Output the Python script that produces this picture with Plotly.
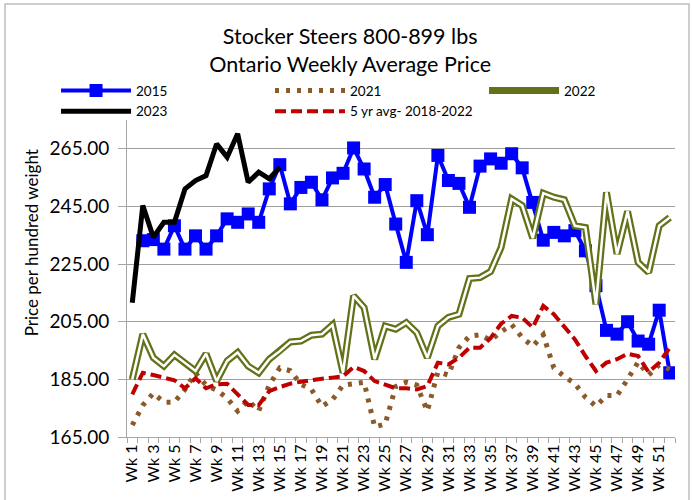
import plotly.graph_objects as go

weeks = [f"Wk {i}" for i in range(1, 53)]

y2015 = [None, 233.1, 233.5, 230.2, 238.3, 230.2, 234.8, 230.2, 234.8, 240.7,
         239.5, 242.4, 239.5, 251.1, 259.5, 245.9, 251.6, 253.4, 247.3, 254.9,
         256.5, 265.3, 258.0, 248.2, 252.6, 238.9, 225.6, 247.0, 235.2, 262.7,
         254.0, 253.0, 244.7, 259.0, 261.5, 260.0, 263.3, 258.4, 246.4, 233.3,
         236.0, 234.8, 236.6, 229.6, 217.5, 202.0, 200.7, 205.0, 198.3, 197.2,
         209.0, 187.3]

y2021 = [169.1, 176.0, 180.2, 177.1, 177.1, 181.5, 187.2, 183.0, 181.3, 178.5,
         174.0, 177.7, 174.0, 183.0, 189.0, 188.0, 183.3, 181.5, 175.6, 178.0,
         183.0, 183.7, 184.0, 168.5, 169.5, 182.5, 184.0, 183.0, 174.0, 187.6,
         186.5, 196.0, 200.0, 200.5, 198.5, 201.5, 204.0, 199.5, 196.5, 200.5,
         189.0, 186.0, 183.5, 178.8, 175.7, 179.4, 179.4, 185.0, 191.0, 186.5,
         190.0, 188.5]

y2022 = [185.0, 200.7, 192.5, 189.6, 193.5, 190.8, 187.9, 193.9, 184.4, 191.4,
         194.3, 189.6, 187.3, 192.0, 194.8, 198.0, 198.3, 200.3, 200.7, 203.9,
         187.3, 214.0, 209.9, 192.0, 203.5, 202.4, 204.7, 201.2, 192.5, 203.5,
         206.5, 207.6, 220.0, 220.3, 222.4, 230.8, 247.6, 245.3, 234.0, 249.6,
         248.2, 247.3, 238.3, 237.7, 211.1, 249.9, 228.5, 243.3, 225.6, 222.1,
         238.3, 241.2]

y2023 = [211.6, 245.3, 234.3, 239.5, 239.5, 251.1, 254.0, 255.7, 266.7, 262.1,
         270.2, 253.4, 256.9, 254.6, 258.6] + [None] * 37

y5yr = [179.8, 187.3, 186.5, 185.6, 184.7, 181.9, 185.4, 181.9, 183.3, 183.5,
        179.8, 176.1, 176.1, 180.9, 182.3, 183.5, 184.2, 184.8, 185.2, 185.6,
        186.0, 189.3, 187.9, 184.4, 183.0, 181.9, 181.9, 181.5, 182.7, 190.8,
        190.2, 192.5, 196.0, 196.0, 199.3, 204.3, 207.0, 206.4, 203.0, 210.5,
        207.6, 203.5, 198.9, 193.1, 187.9, 190.8, 192.0, 193.9, 193.1, 187.5,
        190.8, 196.0]

y_ticks = [165, 185, 205, 225, 245, 265]

FONT = "Lato"
fig = go.Figure()

fig.add_trace(go.Scatter(x=weeks, y=y2015, name="2015", mode="lines+markers",
                         line=dict(color="#0000FF", width=4),
                         marker=dict(symbol="square", size=13, color="#0000FF")))
fig.add_trace(go.Scatter(x=weeks, y=y2021, name="2021", mode="lines",
                         line=dict(color="#8B5A2B", width=5, dash="4px,7px")))
fig.add_trace(go.Scatter(x=weeks, y=y2022, name="2022", mode="lines",
                         line=dict(color="#617219", width=7)))
fig.add_trace(go.Scatter(x=weeks, y=y2022, name="2022 inner", mode="lines",
                         showlegend=False,
                         line=dict(color="white", width=2.5)))
fig.add_trace(go.Scatter(x=weeks, y=y2023, name="2023", mode="lines",
                         line=dict(color="black", width=5)))
fig.add_trace(go.Scatter(x=weeks, y=y5yr, name="5 yr avg- 2018-2022", mode="lines",
                         line=dict(color="#C00000", width=4, dash="11px,5px")))

fig.update_layout(
    width=692, height=500,
    margin=dict(l=127, r=17, t=120, b=63, autoexpand=False),
    paper_bgcolor="white", plot_bgcolor="white",
    font=dict(family=FONT, color="black"),
    title=dict(text="Stocker Steers 800-899 lbs<br>Ontario Weekly Average Price",
               x=0.506, xref="container", xanchor="center",
               y=0.912, yref="container", yanchor="middle",
               font=dict(size=21.5, family=FONT, color="black")),
    legend=dict(orientation="h", x=-0.1295, xanchor="left", y=1.141, yanchor="top",
                entrywidth=129, entrywidthmode="pixels", itemwidth=70,
                font=dict(size=13.5, family=FONT), bgcolor="rgba(0,0,0,0)",
                traceorder="normal"),
    showlegend=True,
)

fig.update_xaxes(type="category", range=[-0.5, 51.5], showgrid=False,
                 showline=True, linecolor="#a6a6a6", linewidth=1,
                 tickmode="linear", tick0=0, dtick=1,
                 ticks="outside", ticklen=5, tickcolor="#a6a6a6",
                 tickson="boundaries", ticklabelstep=2, tickangle=-90,
                 tickfont=dict(size=16, family=FONT, color="black"))
fig.update_yaxes(range=[165, 275], tickvals=y_ticks, tickformat=".2f",
                 showgrid=True, gridcolor="#a0a0a0", gridwidth=1.2,
                 showline=True, linecolor="#a6a6a6", linewidth=1,
                 ticks="outside", ticklen=8, tickcolor="#a6a6a6",
                 ticklabelstandoff=5, zeroline=False,
                 tickfont=dict(size=19, family=FONT, color="black"))

fig.add_annotation(text="Price per hundred weight", textangle=-90,
                   xref="paper", yref="paper", x=-0.1728, y=0.612,
                   xanchor="center", yanchor="middle", showarrow=False,
                   font=dict(size=17, family=FONT, color="black"))

fig.add_shape(type="rect", xref="paper", yref="paper",
              x0=-0.2226, x1=1.0255, y0=-0.2145, y1=1.366,
              line=dict(color="#bfbfbf", width=1.5), fillcolor="rgba(0,0,0,0)",
              layer="below")

fig.write_html("out.html", config={"displayModeBar": False},
               post_script="document.body.style.margin='0';")
